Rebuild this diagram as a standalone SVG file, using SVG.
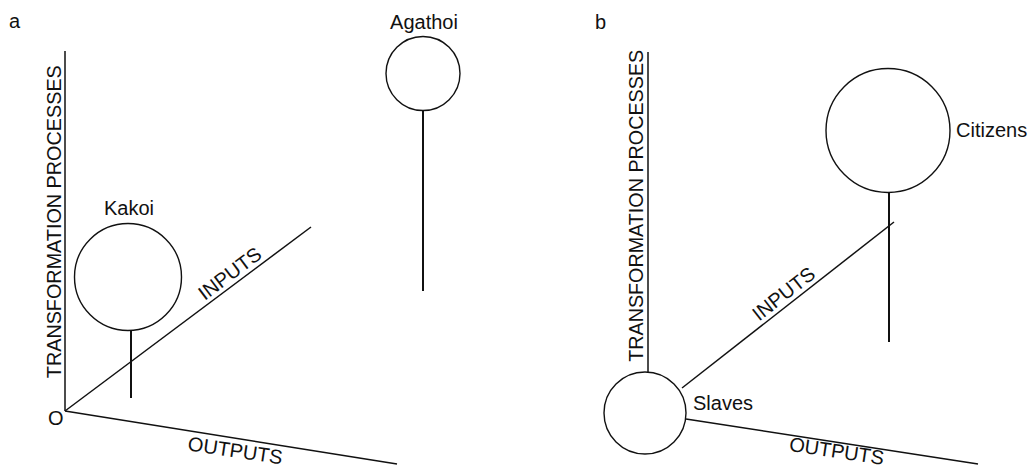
<svg xmlns="http://www.w3.org/2000/svg" width="1031" height="468" viewBox="0 0 1031 468">
<style>
.ln{stroke:#111;stroke-width:1.5;fill:none;stroke-linecap:butt}
.stem{stroke:#111;stroke-width:2;fill:none}
.circ{stroke:#111;stroke-width:1.4;fill:#fff}
.t{font-family:"Liberation Sans",Arial,Helvetica,sans-serif;font-size:20px;fill:#111}
.ax{font-family:"Liberation Sans",Arial,Helvetica,sans-serif;font-size:21px;fill:#111}
.m{text-anchor:middle}
</style>
<rect width="1031" height="468" fill="#fff"/>
<g id="panel-labels">
<text class="t" x="9" y="28" font-size="18">a</text>
<text class="t" x="595" y="29" font-size="18">b</text>
</g>
<g id="connectors">
<!-- panel a axes -->
<line class="ln" x1="65" y1="51" x2="65" y2="411"/>
<line class="ln" x1="65" y1="411" x2="311" y2="227"/>
<line class="ln" x1="65" y1="411" x2="397" y2="464"/>
<!-- panel a stems -->
<line class="stem" x1="131" y1="330" x2="131" y2="398"/>
<line class="stem" x1="423" y1="111" x2="423" y2="291"/>
<!-- panel b axes -->
<line class="ln" x1="648" y1="52" x2="648" y2="372"/>
<line class="ln" x1="682" y1="388" x2="894" y2="222"/>
<line class="ln" x1="686" y1="419" x2="978" y2="464"/>
<!-- panel b stem -->
<line class="stem" x1="889" y1="193" x2="889" y2="342"/>
</g>
<g id="axis-labels">
<text class="ax m" transform="translate(60.5,221.7) rotate(-90)" textLength="313" lengthAdjust="spacingAndGlyphs">TRANSFORMATION PROCESSES</text>
<text class="t m" transform="translate(237,283) rotate(-37)" y="-5">INPUTS</text>
<text class="t m" transform="translate(237,439) rotate(8.5)" y="18.5">OUTPUTS</text>
<text class="t" x="48" y="425" font-size="19">O</text>
<text class="ax m" transform="translate(643,205.8) rotate(-90)" textLength="312" lengthAdjust="spacingAndGlyphs">TRANSFORMATION PROCESSES</text>
<text class="t m" transform="translate(791,303) rotate(-38)" y="-5">INPUTS</text>
<text class="t m" transform="translate(838,442) rotate(8.5)" y="16" font-size="19">OUTPUTS</text>
</g>
<g id="kakoi">
<circle class="circ" cx="128" cy="277" r="53.5"/>
<text class="t m" x="129" y="215">Kakoi</text>
</g>
<g id="agathoi">
<circle class="circ" cx="423" cy="73.5" r="37"/>
<text class="t m" x="424" y="29">Agathoi</text>
</g>
<g id="slaves">
<circle class="circ" cx="645" cy="413" r="41"/>
<text class="t" x="693" y="410">Slaves</text>
</g>
<g id="citizens">
<circle class="circ" cx="888" cy="130.5" r="62"/>
<text class="t" x="956" y="137">Citizens</text>
</g>
</svg>
